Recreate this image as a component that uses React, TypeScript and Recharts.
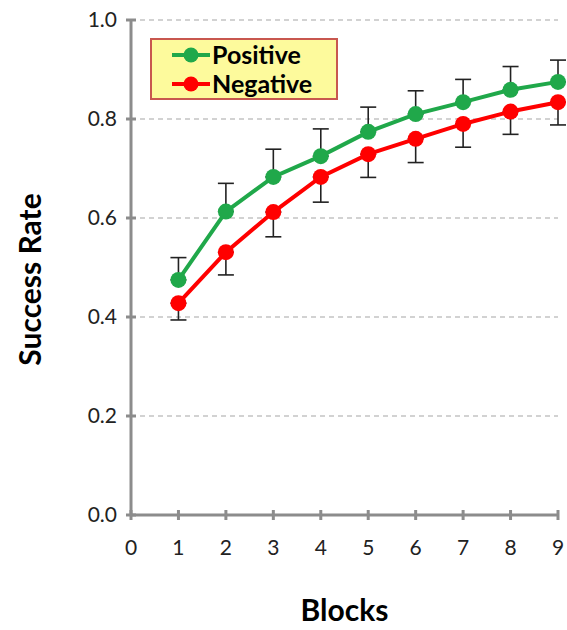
import React from "react";
import {
  LineChart,
  Line,
  XAxis,
  YAxis,
  CartesianGrid,
  ErrorBar,
  Legend,
  Label,
} from "recharts";

const blocks = [1, 2, 3, 4, 5, 6, 7, 8, 9];
const positive = [0.475, 0.613, 0.683, 0.725, 0.774, 0.81, 0.834, 0.859, 0.875];
const negative = [0.428, 0.531, 0.612, 0.683, 0.729, 0.76, 0.79, 0.815, 0.834];
const positiveErr = [0.045, 0.057, 0.056, 0.055, 0.05, 0.047, 0.046, 0.047, 0.044];
const negativeErr = [0.034, 0.046, 0.05, 0.051, 0.047, 0.048, 0.047, 0.046, 0.046];
const xTicks = [0, 1, 2, 3, 4, 5, 6, 7, 8, 9];
const yTicks = [0, 0.2, 0.4, 0.6, 0.8, 1.0];

const data = blocks.map((b, i) => ({
  block: b,
  positive: positive[i],
  negative: negative[i],
  posErr: [0, positiveErr[i]],
  negErr: [negativeErr[i], 0],
}));

const FONT = "Lato, 'Open Sans', sans-serif";
const AXIS = "#8c8c8c";
const GREEN = "#20a84a";
const RED = "#ff0000";

const YTick = (props: any) => {
  const { x, y, payload } = props;
  return (
    <g>
      <line x1={x - 5} x2={x + 5} y1={y} y2={y} stroke={AXIS} strokeWidth={3} />
      <text x={x - 14} y={y} dy={7} textAnchor="end" fontSize={21} fill="#222" fontFamily={FONT}>
        {Number(payload.value).toFixed(1)}
      </text>
    </g>
  );
};

const XTick = (props: any) => {
  const { x, y, payload } = props;
  return (
    <g>
      <line x1={x} x2={x} y1={y - 5} y2={y + 5} stroke={AXIS} strokeWidth={3} />
      <text x={x} y={y + 40} textAnchor="middle" fontSize={21} fill="#222" fontFamily={FONT}>
        {payload.value}
      </text>
    </g>
  );
};

const LegendBox = () => {
  const items = [
    { name: "Positive", color: GREEN },
    { name: "Negative", color: RED },
  ];
  return (
    <div
      style={{
        width: 188,
        height: 62,
        background: "#fdfa9c",
        border: "2px solid #c8574f",
        boxSizing: "border-box",
        padding: "0 0 0 20px",
        fontFamily: FONT,
      }}
    >
      {items.map((it) => (
        <div key={it.name} style={{ display: "flex", alignItems: "center", height: 29 }}>
          <svg width={38} height={20}>
            <line x1={0} x2={38} y1={10} y2={10} stroke={it.color} strokeWidth={4} />
            <circle cx={19} cy={10} r={7.5} fill={it.color} />
          </svg>
          <span style={{ fontWeight: 700, fontSize: 25, color: "#000", marginLeft: 2, lineHeight: "29px" }}>
            {it.name}
          </span>
        </div>
      ))}
    </div>
  );
};

export default function App() {
  return (
    <div style={{ position: "absolute", left: 0, top: 0, width: 567, height: 630, background: "#fff" }}>
      <LineChart
        width={567}
        height={630}
        data={data}
        margin={{ top: 20, right: 9, left: 0, bottom: 0 }}
      >
        <CartesianGrid
          horizontal
          vertical={false}
          stroke="#a6a6a6"
          strokeDasharray="5 4"
          strokeWidth={1.2}
        />
        <XAxis
          dataKey="block"
          type="number"
          domain={[0, 9]}
          ticks={xTicks}
          interval={0}
          height={115}
          axisLine={{ stroke: AXIS, strokeWidth: 3 }}
          tickLine={false}
          tickSize={0}
          tickMargin={0}
          tick={<XTick />}
        >
          <Label
            content={({ viewBox }: any) => (
              <text
                x={viewBox.x + viewBox.width / 2}
                y={621}
                textAnchor="middle"
                fontSize={30}
                fontWeight={700}
                fontFamily={FONT}
                fill="#000"
              >
                Blocks
              </text>
            )}
          />
        </XAxis>
        <YAxis
          type="number"
          domain={[0, 1]}
          ticks={yTicks}
          interval={0}
          width={131}
          axisLine={{ stroke: AXIS, strokeWidth: 3 }}
          tickLine={false}
          tickSize={0}
          tickMargin={0}
          tick={<YTick />}
        >
          <Label
            content={({ viewBox }: any) => {
              const cy = viewBox.y + viewBox.height / 2 + 12;
              return (
                <text
                  x={41}
                  y={cy}
                  transform={`rotate(-90 41 ${cy})`}
                  textAnchor="middle"
                  fontSize={30}
                  fontWeight={700}
                  fontFamily={FONT}
                  fill="#000"
                >
                  Success Rate
                </text>
              );
            }}
          />
        </YAxis>
        <Legend
          layout="vertical"
          align="center"
          verticalAlign="middle"
          wrapperStyle={{ top: 38, left: 150, width: 188 }}
          content={<LegendBox />}
        />
        <Line
          dataKey="positive"
          stroke={GREEN}
          strokeWidth={4}
          dot={{ r: 8, fill: GREEN, stroke: GREEN, strokeWidth: 0 }}
          isAnimationActive={false}
        >
          <ErrorBar dataKey="posErr" direction="y" width={8} stroke="#222" strokeWidth={1.6} />
        </Line>
        <Line
          dataKey="negative"
          stroke={RED}
          strokeWidth={4}
          dot={{ r: 8, fill: RED, stroke: RED, strokeWidth: 0 }}
          isAnimationActive={false}
        >
          <ErrorBar dataKey="negErr" direction="y" width={8} stroke="#222" strokeWidth={1.6} />
        </Line>
      </LineChart>
    </div>
  );
}
